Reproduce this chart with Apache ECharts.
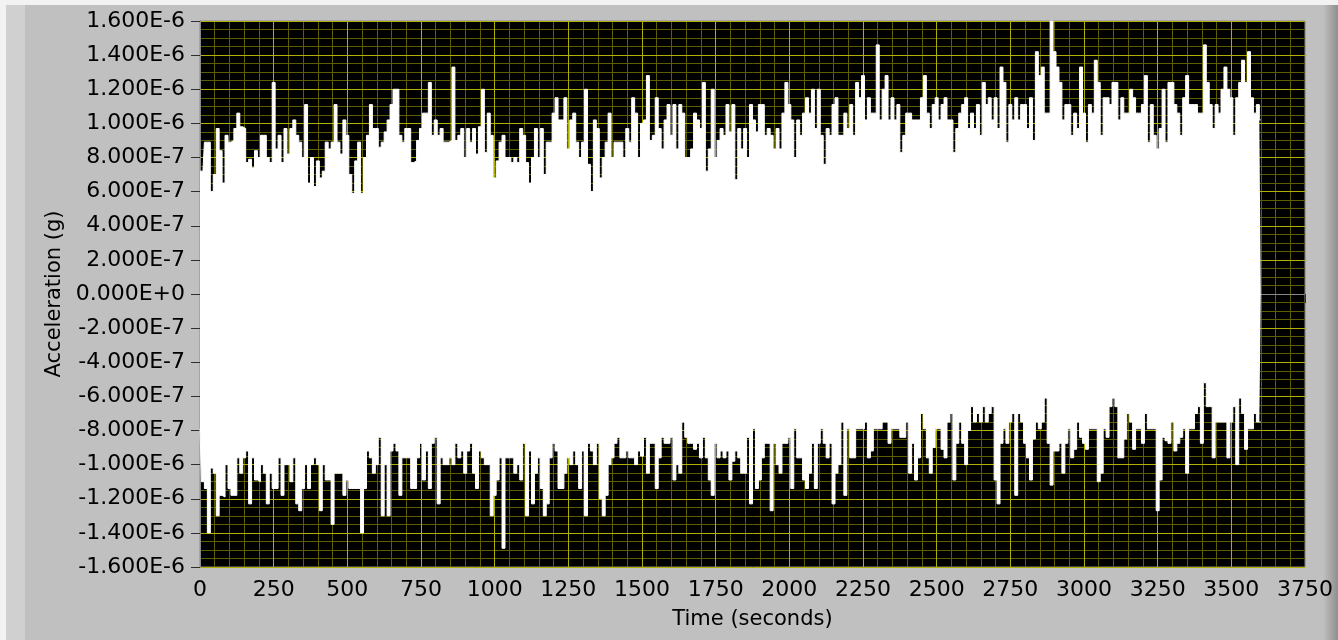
<!DOCTYPE html>
<html>
<head>
  <meta charset="utf-8">
  <title>acceleration</title>
  <script src="https://cdn.jsdelivr.net/npm/echarts@6/dist/echarts.min.js"></script>
  <style>
    html, body { margin: 0; padding: 0; background: #c0c0c0; }
    #main { width: 1338px; height: 640px; }
  </style>
</head>
<body>
  <div id="main"></div>
  <script type="text/javascript">
    // envelope of the signal, one sample every 10 s, in units of 1E-7 g
    var sampleStep = 10;
    var upperE7 = [
      7.2, 7.2, 8.9, 8.9, 6.0, 7.0, 9.7, 8.4, 6.5, 9.3,
      8.9, 9.0, 9.7, 10.6, 9.8, 9.7, 7.7, 7.9, 7.4, 8.4,
      8.0, 9.3, 9.3, 8.0, 7.7, 12.4, 8.5, 9.3, 7.7, 9.7,
      8.2, 9.7, 10.2, 9.3, 8.9, 8.0, 11.1, 6.5, 8.0, 6.3,
      7.8, 6.8, 7.2, 8.9, 8.5, 8.9, 11.1, 8.9, 8.2, 10.2,
      9.3, 7.0, 5.9, 7.8, 8.9, 5.9, 8.0, 9.3, 11.1, 9.7,
      9.7, 8.6, 8.9, 9.5, 10.2, 11.1, 12.0, 12.0, 9.3, 8.9,
      9.7, 9.7, 7.7, 7.8, 9.0, 9.7, 10.6, 10.6, 12.4, 9.3,
      10.2, 9.3, 9.7, 8.9, 8.9, 9.0, 13.3, 9.0, 9.3, 9.7,
      8.0, 9.7, 8.9, 9.7, 8.2, 9.8, 12.0, 8.3, 10.6, 9.3,
      6.8, 7.8, 8.9, 9.3, 8.0, 8.0, 7.7, 8.0, 7.7, 9.7,
      9.3, 7.7, 6.5, 8.0, 9.7, 8.0, 9.7, 7.0, 8.9, 8.9,
      10.6, 11.5, 10.2, 10.2, 11.5, 8.5, 10.2, 10.6, 8.9, 8.0,
      8.9, 12.0, 7.6, 6.0, 10.2, 9.7, 6.8, 8.0, 8.9, 10.6,
      8.0, 8.9, 8.9, 8.9, 8.0, 9.7, 8.9, 11.5, 10.6, 8.0,
      10.0, 10.2, 12.8, 9.0, 9.3, 11.5, 9.7, 8.5, 10.2, 11.1,
      9.3, 11.1, 8.5, 11.1, 10.6, 8.0, 8.0, 8.5, 10.6, 10.2,
      9.7, 12.4, 7.2, 8.5, 12.0, 8.0, 9.0, 9.7, 9.3, 11.1,
      9.5, 11.1, 6.7, 9.7, 8.5, 9.7, 8.0, 11.1, 10.2, 9.5,
      11.1, 11.1, 9.3, 9.7, 9.3, 8.5, 9.7, 8.5, 10.6, 12.4,
      11.1, 10.2, 8.0, 10.2, 9.3, 10.6, 11.5, 10.6, 12.0, 9.7,
      12.0, 9.3, 7.6, 9.7, 9.3, 11.1, 11.5, 9.3, 9.3, 10.6,
      9.7, 11.1, 9.3, 12.4, 11.5, 12.8, 10.2, 11.5, 10.6, 10.6,
      14.6, 10.2, 12.0, 12.8, 10.2, 11.5, 10.2, 11.1, 8.3, 9.3,
      10.6, 10.6, 10.2, 10.2, 10.2, 11.5, 12.8, 10.6, 9.7, 11.1,
      11.5, 10.2, 11.1, 11.5, 10.2, 10.2, 8.3, 9.7, 10.6, 11.1,
      11.5, 9.7, 10.6, 9.7, 11.1, 9.3, 12.4, 11.1, 11.5, 10.2,
      11.5, 9.7, 13.3, 12.4, 8.9, 11.1, 10.2, 11.5, 10.2, 11.1,
      11.1, 9.7, 11.5, 9.0, 14.2, 12.8, 13.3, 10.6, 10.6, 16.0,
      14.2, 13.3, 12.4, 10.2, 11.1, 11.1, 9.3, 10.6, 9.7, 13.3,
      10.6, 8.9, 11.1, 10.6, 13.7, 12.4, 9.3, 11.5, 11.5, 11.1,
      12.4, 12.4, 10.2, 11.5, 10.6, 10.6, 12.0, 11.5, 10.6, 10.6,
      11.1, 12.8, 8.9, 11.1, 9.3, 8.5, 9.7, 12.0, 8.9, 12.4,
      12.4, 11.1, 10.6, 9.3, 11.5, 12.8, 11.1, 11.1, 11.1, 10.6,
      10.6, 14.6, 12.4, 11.1, 9.7, 11.1, 10.6, 12.0, 13.3, 12.0,
      11.5, 9.3, 11.5, 12.4, 13.7, 12.4, 14.2, 11.5, 10.6, 11.1,
      10.2
    ];
    var lowerE7 = [
      -7.9, -11.0, -11.4, -14.0, -10.2, -10.5, -13.0, -11.8, -11.9, -10.0,
      -11.4, -11.8, -11.8, -9.6, -10.5, -9.6, -9.2, -12.3, -9.6, -10.9,
      -11.0, -10.0, -10.5, -12.3, -10.5, -11.4, -11.4, -9.6, -11.8, -10.0,
      -10.0, -11.0, -9.6, -12.3, -12.7, -11.4, -10.0, -11.4, -10.0, -9.6,
      -10.0, -12.7, -10.0, -10.9, -10.9, -13.5, -10.5, -10.5, -10.5, -11.8,
      -10.9, -11.4, -11.4, -11.4, -11.4, -14.0, -11.4, -9.2, -9.6, -10.5,
      -10.0, -8.4, -13.0, -10.0, -13.0, -9.2, -8.75, -9.2, -11.8, -9.6,
      -9.6, -9.6, -11.4, -11.4, -9.6, -8.75, -10.9, -9.2, -11.4, -8.75,
      -8.4, -12.3, -9.6, -10.0, -10.0, -9.6, -10.0, -8.75, -9.6, -9.2,
      -10.5, -9.2, -8.75, -10.5, -11.4, -9.2, -9.6, -10.0, -10.0, -13.0,
      -11.8, -10.9, -9.6, -14.9, -9.6, -9.6, -9.6, -10.5, -10.0, -10.9,
      -8.75, -13.0, -9.2, -12.3, -10.5, -9.6, -11.4, -13.0, -12.3, -9.6,
      -8.75, -9.2, -11.4, -11.4, -10.5, -9.6, -10.0, -9.2, -10.0, -11.4,
      -9.2, -13.0, -8.75, -9.2, -10.0, -8.75, -12.0, -13.0, -11.8, -10.0,
      -9.6, -8.75, -8.4, -9.6, -9.6, -9.2, -9.6, -9.6, -10.0, -9.2,
      -9.5, -8.4, -10.5, -8.75, -8.75, -11.4, -9.6, -8.4, -8.75, -8.75,
      -8.4, -10.9, -10.0, -10.5, -7.5, -8.4, -8.75, -8.75, -9.1, -8.75,
      -9.6, -8.4, -9.6, -10.9, -11.8, -8.75, -9.6, -9.2, -9.6, -9.2,
      -10.9, -9.8, -9.2, -9.6, -10.5, -10.5, -8.4, -12.3, -7.9, -11.4,
      -10.9, -9.6, -8.75, -8.75, -12.7, -8.75, -10.0, -10.5, -8.75, -8.75,
      -8.4, -11.4, -7.9, -9.6, -9.6, -10.9, -11.4, -10.5, -8.75, -11.4,
      -8.75, -7.9, -8.75, -9.6, -8.75, -12.3, -10.5, -10.0, -7.5, -11.8,
      -7.9, -9.6, -9.6, -7.9, -7.9, -7.9, -7.5, -9.6, -9.2, -7.9,
      -7.9, -7.9, -7.5, -7.5, -8.75, -7.9, -7.9, -7.9, -8.4, -8.4,
      -7.5, -10.5, -8.75, -10.9, -9.6, -7.0, -7.9, -9.6, -10.5, -9.0,
      -7.9, -7.9, -9.1, -9.6, -7.5, -7.0, -10.9, -8.75, -7.5, -8.75,
      -10.0, -8.0, -6.6, -7.5, -7.0, -7.5, -6.6, -7.5, -7.0, -6.6,
      -10.9, -12.3, -8.75, -7.9, -8.75, -7.5, -7.0, -11.8, -7.0, -7.5,
      -8.75, -9.6, -10.9, -8.5, -7.5, -7.9, -7.5, -6.1, -8.75, -11.2,
      -9.2, -9.2, -8.75, -10.5, -8.75, -7.9, -9.6, -9.1, -7.5, -8.4,
      -8.75, -9.1, -7.9, -7.9, -7.9, -11.0, -10.5, -7.9, -8.4, -6.6,
      -6.1, -6.6, -9.6, -9.6, -8.5, -7.0, -7.5, -9.1, -7.9, -7.9,
      -8.75, -7.0, -7.9, -7.9, -7.9, -12.7, -10.9, -8.4, -8.6, -8.75,
      -7.5, -9.2, -8.75, -8.4, -7.9, -10.5, -7.9, -7.9, -7.0, -6.6,
      -8.75, -5.2, -6.6, -6.6, -9.6, -7.5, -7.5, -7.5, -7.5, -9.6,
      -7.5, -6.6, -10.0, -6.1, -7.0, -9.1, -7.9, -7.9, -7.0, -7.5,
      -7.5
    ];

    // y axis runs in units of 1E-7, labels printed like LabVIEW
    function sciLabel(v) {
      if (Math.abs(v) < 1e-9) return '0.000E+0';
      var x = v * 1e-7;
      var e = Math.floor(Math.log10(Math.abs(x)) + 1e-9);
      var m = x / Math.pow(10, e);
      if (Math.abs(m) >= 9.9995) { m = m / 10; e++; }
      return m.toFixed(3) + 'E' + (e < 0 ? '-' : '+') + Math.abs(e);
    }

    var upperData = [], lowerData = [];
    for (var i = 0; i < upperE7.length; i++) {
      var t = i * sampleStep;
      upperData.push([t, upperE7[i]]);
      lowerData.push([t, lowerE7[i]]);
    }

    var font = 'DejaVu Sans';
    var majorGrid = '#b0b000';
    var minorGrid = '#5e5e00';
    var hidden = { show: false };

    var chart = echarts.init(document.getElementById('main'));
    var option = {
      animation: false,
      backgroundColor: '#c0c0c0',
      graphic: [
        { type: 'rect', shape: { x: 0, y: 0, width: 1338, height: 5 }, style: { fill: '#f2f2f2' }, silent: true },
        { type: 'rect', shape: { x: 0, y: 0, width: 6, height: 640 }, style: { fill: '#f2f2f2' }, silent: true },
        { type: 'rect', shape: { x: 6, y: 5, width: 19, height: 635 }, style: { fill: '#d0d0d0' }, silent: true },
        {
          type: 'rect', shape: { x: 1323, y: 5, width: 15, height: 635 }, silent: true,
          style: { fill: new echarts.graphic.LinearGradient(0, 0, 1, 0, [
            { offset: 0, color: '#c0c0c0' }, { offset: 1, color: '#8e8e8e' }]) }
        }
      ],
      grid: {
        left: 200, right: 33, top: 21, bottom: 73,
        show: true, backgroundColor: '#000', borderColor: '#8a8a8a', borderWidth: 1
      },
      xAxis: [
        {
          type: 'value', min: 0, max: 3750, interval: 250, z: 1,
          name: 'Time (seconds)', nameLocation: 'middle', nameGap: 42,
          nameTextStyle: { fontFamily: font, fontSize: 21, color: '#000' },
          axisLine: { show: true, lineStyle: { color: '#8a8a8a' } },
          axisTick: { show: true, length: 9, lineStyle: { color: '#303030' } },
          axisLabel: { fontFamily: font, fontSize: 22, color: '#000', margin: 12,
            formatter: function (v) { return String(v); } },
          splitLine: { show: true, lineStyle: { color: majorGrid, width: 1 } }
        },
        {
          // fine grid, every 50 s
          type: 'value', min: 0, max: 3750, interval: 50, z: 0,
          axisLine: hidden, axisTick: hidden, axisLabel: hidden,
          splitLine: { show: true, lineStyle: { color: minorGrid, width: 1 } }
        }
      ],
      yAxis: [
        {
          type: 'value', min: -16, max: 16, interval: 2, z: 1,
          name: 'Acceleration (g)', nameLocation: 'middle', nameGap: 130,
          nameTextStyle: { fontFamily: font, fontSize: 21, color: '#000' },
          axisLine: { show: true, lineStyle: { color: '#8a8a8a' } },
          axisTick: { show: true, length: 9, lineStyle: { color: '#303030' } },
          axisLabel: { fontFamily: font, fontSize: 22, color: '#000', margin: 15, formatter: sciLabel },
          splitLine: { show: true, lineStyle: { color: majorGrid, width: 1 } }
        },
        {
          // fine grid, every 5E-8
          type: 'value', min: -16, max: 16, interval: 0.5, z: 0,
          axisLine: hidden, axisTick: hidden, axisLabel: hidden,
          splitLine: { show: true, lineStyle: { color: minorGrid, width: 1 } }
        }
      ],
      series: [
        {
          name: 'upper', type: 'line', step: 'middle', showSymbol: false, silent: true, z: 3,
          lineStyle: { color: '#fff', width: 1 },
          areaStyle: { color: '#fff', opacity: 1, origin: 0 },
          data: upperData
        },
        {
          name: 'lower', type: 'line', step: 'middle', showSymbol: false, silent: true, z: 3,
          lineStyle: { color: '#fff', width: 1 },
          areaStyle: { color: '#fff', opacity: 1, origin: 0 },
          data: lowerData
        }
      ]
    };
    chart.setOption(option);
  </script>
</body>
</html>
